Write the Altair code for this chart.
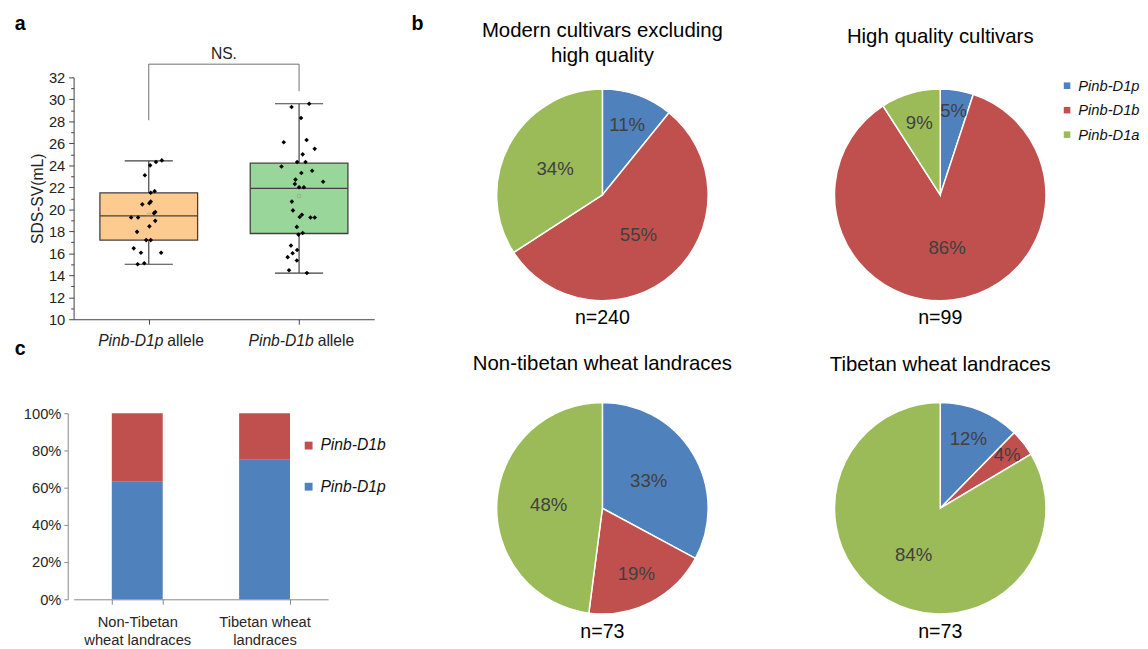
import altair as alt
import pandas as pd

FONT = "Liberation Sans"

# ---------------- panel a : SDS-SV box plots ----------------
alleles_a = ["Pinb-D1p", "Pinb-D1b"]
positions_a = [1, 2]
q1_a = [17.2, 17.8]
median_a = [19.4, 21.9]
q3_a = [21.5, 24.2]
whisker_lo_a = [15.0, 14.2]
whisker_hi_a = [24.4, 29.6]
mean_a = [19.5, 21.2]
box_colors = ["#FDCB8F", "#99D69A"]

d1p_sv = [24.45, 24.3, 24.0, 23.1, 21.5, 21.65, 20.45, 20.55, 20.7, 19.75,
          19.65, 19.25, 19.25, 18.95, 18.45, 17.95, 17.2, 17.2, 16.45, 16.05,
          16.05, 15.1, 15.0]
d1p_jitter = [0.087, 0.048, 0.009, -0.026, 0.013, 0.039, -0.043, 0.004, 0.013, 0.043,
              0.035, -0.117, -0.071, 0.043, 0.004, -0.078, -0.017, 0.013, -0.1, -0.052,
              0.082, -0.03, -0.074]
d1b_sv = [29.6, 29.3, 28.3, 26.1, 26.3, 25.5, 25.0, 24.3, 24.3, 23.9,
          23.5, 23.3, 22.5, 22.7, 22.3, 22.0, 22.0, 20.7, 19.9, 19.5,
          19.3, 19.25, 19.25, 18.4, 17.85, 17.7, 16.7, 16.0, 15.65, 16.3,
          15.35, 14.45, 14.2]
d1b_jitter = [0.067, -0.05, 0.013, -0.102, 0.05, 0.104, 0.024, 0.043, -0.013, -0.117,
              0.087, 0.015, 0.16, -0.024, -0.028, 0.0, 0.032, -0.048, -0.041, 0.019,
              0.004, 0.076, 0.104, -0.015, 0.024, -0.004, -0.054, -0.043, -0.076, -0.013,
              -0.015, -0.067, 0.052]
x_label_italic = ["Pinb-D1p", "Pinb-D1b"]
x_label_plain = ["allele", "allele"]
bracket_x = [1, 1, 2, 2]
bracket_y = [28.1, 33.2, 33.2, 30.75]
sig_label = "NS."

# ---------------- panel c : stacked bars ----------------
landraces = ["Non-Tibetan\nwheat landraces", "Tibetan wheat\nlandraces"]
c_alleles = ["Pinb-D1b", "Pinb-D1p"]
c_colors = ["#C0504D", "#4F81BD"]
c_d1p = [24, 9]
c_d1b = [14, 3]

# ---------------- panel b : pies ----------------
pie_alleles = ["Pinb-D1p", "Pinb-D1b", "Pinb-D1a"]
pie_colors = ["#4F81BD", "#C0504D", "#9BBB59"]
pie_titles = [["Modern cultivars excluding", "high quality"],
              "High quality cultivars",
              "Non-tibetan wheat landraces",
              "Tibetan wheat landraces"]
pie_counts = [[26, 132, 82],
              [5, 85, 9],
              [24, 14, 35],
              [9, 3, 61]]

EDGE = "#404040"

# ======== panel a ========
W_A, H_A = 307, 247
xs = alt.Scale(domain=[0.5, 2.5], nice=False, zero=False)
ys = alt.Scale(domain=[10, 32], nice=False, zero=False)

box_df = pd.DataFrame({"allele": alleles_a, "pos": positions_a, "q1": q1_a, "med": median_a,
                       "q3": q3_a, "lo": whisker_lo_a, "hi": whisker_hi_a, "mean": mean_a})
pts_df = pd.concat([
    pd.DataFrame({"pos": 1, "sv": d1p_sv, "jit": d1p_jitter}),
    pd.DataFrame({"pos": 2, "sv": d1b_sv, "jit": d1b_jitter}),
])
lab_df = pd.DataFrame({"pos": positions_a, "it": x_label_italic, "pl": x_label_plain})
br_df = pd.DataFrame({"bx": bracket_x, "by": bracket_y, "k": range(4)})
ns_df = pd.DataFrame({"nx": [sum(bracket_x) / 4], "ny": [max(bracket_y)], "t": [sig_label]})

x_axis_a = alt.Axis(values=[1, 2], labels=False, title=None, tickSize=5, grid=False,
                    domainColor=EDGE, tickColor=EDGE)
y_axis_main = alt.Axis(orient="left", values=list(range(10, 33, 2)), title="SDS-SV(mL)",
                       titleFontSize=16, titleFontWeight="normal", titlePadding=3,
                       labelFontSize=15, tickSize=5, labelPadding=4, grid=False,
                       domainColor=EDGE, tickColor=EDGE, labelColor="#222", titleColor="#222")
y_axis_minor = alt.Axis(orient="left", values=list(range(11, 32, 2)), labels=False, tickSize=3,
                        domain=False, grid=False, title=None, tickColor=EDGE)

box_base = alt.Chart(box_df).transform_calculate(
    bl="datum.pos - 0.325", br="datum.pos + 0.325",
    cl="datum.pos - 0.16", cr="datum.pos + 0.16")

whisk = box_base.mark_rule(color=EDGE, strokeWidth=1.2).encode(
    x=alt.X("pos:Q", scale=xs, axis=x_axis_a),
    y=alt.Y("lo:Q", scale=ys, axis=y_axis_minor), y2="hi:Q")
cap_lo = box_base.mark_rule(color=EDGE, strokeWidth=1.2).encode(
    x=alt.X("cl:Q", scale=xs, title=None), x2="cr:Q",
    y=alt.Y("lo:Q", scale=ys, axis=None))
cap_hi = box_base.mark_rule(color=EDGE, strokeWidth=1.2).encode(
    x=alt.X("cl:Q", scale=xs, title=None), x2="cr:Q",
    y=alt.Y("hi:Q", scale=ys, axis=None))
boxes = box_base.mark_rect(stroke=EDGE, strokeWidth=1.3).encode(
    x=alt.X("bl:Q", scale=xs, title=None), x2="br:Q",
    y=alt.Y("q1:Q", scale=ys, axis=None), y2="q3:Q",
    color=alt.Color("allele:N", scale=alt.Scale(domain=alleles_a, range=box_colors), legend=None))
meds = box_base.mark_rule(color=EDGE, strokeWidth=1.3).encode(
    x=alt.X("bl:Q", scale=xs, title=None), x2="br:Q",
    y=alt.Y("med:Q", scale=ys, axis=None))
means = box_base.mark_point(shape="square", size=10, filled=False, color="#999999",
                            strokeWidth=0.8).encode(
    x=alt.X("pos:Q", scale=xs, title=None), y=alt.Y("mean:Q", scale=ys, axis=None))
pts = alt.Chart(pts_df).transform_calculate(px="datum.pos + datum.jit").mark_point(
    shape="diamond", filled=True, color="black", size=22, opacity=1).encode(
    x=alt.X("px:Q", scale=xs, title=None), y=alt.Y("sv:Q", scale=ys, axis=y_axis_main))
bracket = alt.Chart(br_df).mark_line(color="#6e6e6e", strokeWidth=1).encode(
    x=alt.X("bx:Q", scale=xs, title=None), y=alt.Y("by:Q", scale=ys, axis=None),
    order="k:Q")
ns_text = alt.Chart(ns_df).mark_text(fontSize=16, dy=-10, color="#222").encode(
    x=alt.X("nx:Q", scale=xs, title=None), y=alt.Y("ny:Q", scale=ys, axis=None), text="t:N")
lab_it = alt.Chart(lab_df).mark_text(align="right", dx=15, fontSize=16, fontStyle="italic",
                                     baseline="middle", color="#222").encode(
    x=alt.X("pos:Q", scale=xs, title=None), y=alt.value(H_A + 22), text="it:N")
lab_pl = alt.Chart(lab_df).mark_text(align="left", dx=19, fontSize=16,
                                     baseline="middle", color="#222").encode(
    x=alt.X("pos:Q", scale=xs, title=None), y=alt.value(H_A + 22), text="pl:N")
tags_ab = alt.Chart(pd.DataFrame({"t": ["a", "b"], "tx": [-60, 345]})).mark_text(
    align="left", baseline="alphabetic", fontSize=20, fontWeight="bold", color="black").encode(
    x=alt.X("tx:Q", scale=None), y=alt.value(-48), text="t:N")

panel_a = alt.layer(whisk, cap_lo, cap_hi, boxes, meds, means, pts, bracket, ns_text,
                    lab_it, lab_pl, tags_ab).resolve_axis(y="independent").properties(
    width=W_A, height=H_A)

# ======== panel c ========
W_C, H_C = 260, 190
c_rows = []
for lr, p, b in zip(landraces, c_d1p, c_d1b):
    c_rows.append({"landrace": lr, "allele": "Pinb-D1p", "count": p, "rank": 0})
    c_rows.append({"landrace": lr, "allele": "Pinb-D1b", "count": b, "rank": 1})
c_df = pd.DataFrame(c_rows)

bars = alt.Chart(c_df).mark_bar().encode(
    x=alt.X("landrace:N", sort=landraces,
            scale=alt.Scale(paddingInner=0.6, paddingOuter=0.3),
            axis=alt.Axis(title=None, labelAngle=0, labelExpr="split(datum.label, '\\n')",
                          labelFontSize=15, labelLineHeight=18, tickBand="extent", tickSize=5,
                          labelPadding=11, domainColor="#868686", tickColor="#868686",
                          labelColor="#262626")),
    y=alt.Y("count:Q", stack="normalize", scale=alt.Scale(domain=[0, 1], nice=False),
            axis=alt.Axis(format="%", values=[0, 0.2, 0.4, 0.6, 0.8, 1.0], title=None,
                          offset=6, tickSize=4, labelFontSize=15, labelPadding=3, grid=False,
                          domainColor="#868686", tickColor="#868686", labelColor="#262626")),
    color=alt.Color("allele:N", scale=alt.Scale(domain=c_alleles, range=c_colors),
                    legend=alt.Legend(orient="none", legendX=232, legendY=25, title=None,
                                      symbolType="square", symbolSize=64, symbolStrokeWidth=0,
                                      labelFontSize=16, labelFontStyle="italic",
                                      labelColor="#111", rowPadding=26)),
    order=alt.Order("rank:Q"))
tag_c = alt.Chart(pd.DataFrame({"t": ["c"]})).mark_text(
    align="left", baseline="alphabetic", fontSize=20, fontWeight="bold", color="black").encode(
    x=alt.value(-60), y=alt.value(-60), text="t:N")
panel_c = alt.layer(bars, tag_c).properties(width=W_C, height=H_C)


# ======== panel b ========
PIE_W = 224
TWO_PI = 6.283185307


def make_pie(counts, title, offset, legend, height):
    df = pd.DataFrame({"allele": pie_alleles, "count": counts, "k": [0, 1, 2]})
    arcs = alt.Chart(df).mark_arc(outerRadius=108, stroke="white", strokeWidth=1.5).encode(
        theta=alt.Theta("count:Q", stack=True), order=alt.Order("k:Q"),
        color=alt.Color("allele:N", scale=alt.Scale(domain=pie_alleles, range=pie_colors),
                        legend=legend))
    labels = alt.Chart(df).transform_window(
        cum="sum(count)", sort=[alt.SortField("k")], frame=[None, 0]
    ).transform_joinaggregate(tot="sum(count)").transform_calculate(
        mid="(datum.cum - datum.count / 2) / datum.tot",
        pct="round(datum.count / datum.tot * 100)",
        lab="datum.pct + '%'",
        lr="datum.pct >= 30 ? 55 : (datum.pct < 7 ? 87 : 76)").mark_text(
        fontSize=19, color="#404040").encode(
        theta=alt.Theta("mid:Q", stack=None,
                        scale=alt.Scale(domain=[0, 1], range=[0, TWO_PI])),
        radius=alt.Radius("lr:Q", scale=None), text="lab:N")
    nlab = alt.Chart(df).transform_aggregate(tot="sum(count)").transform_calculate(
        lab="'n=' + datum.tot").mark_text(fontSize=20, baseline="middle", color="black").encode(
        x=alt.value(PIE_W / 2), y=alt.value(height / 2 + 126), text="lab:N")
    return alt.layer(arcs, labels, nlab).resolve_scale(theta="independent").properties(
        width=PIE_W, height=height,
        title=alt.TitleParams(title, fontSize=20.8, fontWeight="normal", offset=offset,
                              lineHeight=25, color="black"))


pie_legend = alt.Legend(orient="none", legendX=234, legendY=1, title=None,
                        symbolType="square", symbolSize=45, symbolStrokeWidth=0,
                        labelFontSize=15, labelFontStyle="italic", labelColor="#111",
                        rowPadding=9)

p1 = make_pie(pie_counts[0], pie_titles[0], 11, None, 240)
p2 = make_pie(pie_counts[1], pie_titles[1], 30, pie_legend, 240)
p3 = make_pie(pie_counts[2], pie_titles[2], 25, None, 194)
p4 = make_pie(pie_counts[3], pie_titles[3], 24, None, 194)

chart = alt.concat(panel_a, p1, p2, panel_c, p3, p4, columns=3, bounds="flush",
                   spacing=alt.RowColnumber(row=96, column=121)).resolve_scale(
    color="independent").properties(
    padding={"left": 7, "top": 0, "right": 0, "bottom": 0}, background="white"
).configure(font=FONT).configure_view(stroke=None)

chart.save("out.html", embed_options={"renderer": "svg", "actions": False})
